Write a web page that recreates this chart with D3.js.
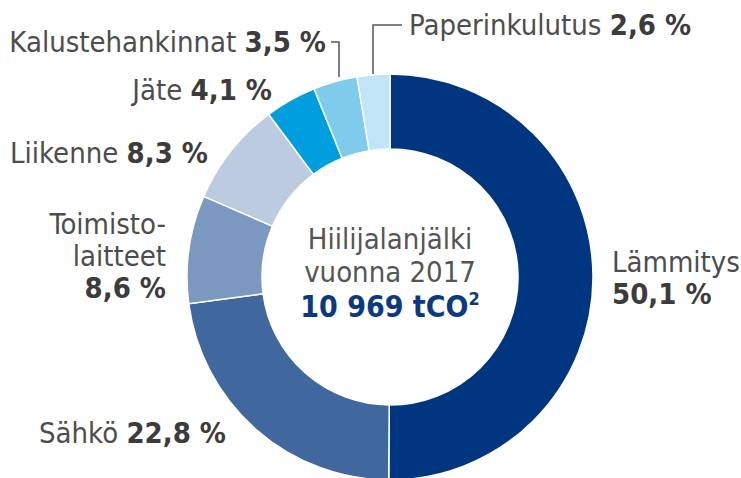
<!DOCTYPE html>
<html>
<head>
<meta charset="utf-8">
<script src="https://cdn.jsdelivr.net/npm/d3@7"></script>
<style>
  body { margin: 0; background: #fff; }
  svg text { font-family: "Liberation Sans Narrow", "DejaVu Sans Condensed", sans-serif; }
</style>
</head>
<body>
<div id="chart"></div>
<script>
// data
var categories = ["Lämmitys", "Sähkö", "Toimistolaitteet", "Liikenne", "Jäte", "Kalustehankinnat", "Paperinkulutus"];
var shares = [50.1, 22.8, 8.6, 8.3, 4.1, 3.5, 2.6];
var shareLabels = ["50,1 %", "22,8 %", "8,6 %", "8,3 %", "4,1 %", "3,5 %", "2,6 %"];
var centerLines = ["Hiilijalanjälki", "vuonna 2017"];
var totalLabel = "10 969 tCO";

var width = 741, height = 478;
var cx = 390, cy = 277, outerR = 203, innerR = 128;

var svg = d3.select("#chart").append("svg")
  .attr("width", width)
  .attr("height", height);

var color = d3.scaleOrdinal()
  .domain(categories)
  .range(["#00367f", "#40679e", "#7b98c0", "#bccbe0", "#009ede", "#7fcbec", "#bfe5f6"]);

var pie = d3.pie().sort(null).value(function(d){ return d; });
var arc = d3.arc().innerRadius(innerR).outerRadius(outerR);

var g = svg.append("g").attr("transform", "translate(" + cx + "," + cy + ")");

g.selectAll("path")
  .data(pie(shares))
  .enter().append("path")
  .attr("d", arc)
  .attr("fill", function(d, i){ return color(categories[i]); })
  .attr("stroke", "#fff")
  .attr("stroke-width", 1.5);

// labels: placement per slice (x, y, anchor, lines)
var fs = 29;
var labelCol = "#4d4d4d", boldCol = "#3c3c3c";

function label(x, y, anchor, rows) {
  var t = svg.append("text")
    .attr("x", x).attr("y", y)
    .attr("text-anchor", anchor)
    .style("font-size", fs + "px")
    .attr("fill", labelCol);
  rows.forEach(function(r, k){
    var ts = t.append("tspan");
    if (r.newLine) ts.attr("x", x).attr("dy", 32);
    ts.text(r.text);
    if (r.bold) ts.style("font-weight", "bold").attr("fill", boldCol);
  });
}

label(612, 272, "start", [{text: categories[0]}, {text: shareLabels[0], bold: true, newLine: true}]);
label(226, 443, "end", [{text: "Sähkö "}, {text: shareLabels[1], bold: true}]);
label(166, 234, "end", [{text: "Toimisto-"}, {text: "laitteet", newLine: true}, {text: shareLabels[2], bold: true, newLine: true}]);
label(208, 163, "end", [{text: categories[3] + " "}, {text: shareLabels[3], bold: true}]);
label(272, 100, "end", [{text: categories[4] + " "}, {text: shareLabels[4], bold: true}]);
label(326, 52, "end", [{text: categories[5] + " "}, {text: shareLabels[5], bold: true}]);
label(409, 35, "start", [{text: categories[6] + " "}, {text: shareLabels[6], bold: true}]);

// leader lines for the small slices
svg.append("path")
  .attr("d", "M331,42H339V77")
  .attr("fill", "none").attr("stroke", "#555").attr("stroke-width", 1.5);
svg.append("path")
  .attr("d", "M402,25H373V74")
  .attr("fill", "none").attr("stroke", "#555").attr("stroke-width", 1.5);

// centre text
var ct = svg.append("text")
  .attr("x", cx).attr("y", 249)
  .attr("text-anchor", "middle")
  .style("font-size", fs + "px")
  .attr("fill", "#555");
centerLines.forEach(function(l, k){
  ct.append("tspan").attr("x", cx).attr("dy", k ? 33 : 0).text(l);
});
var tot = svg.append("text")
  .attr("x", cx).attr("y", 317)
  .attr("text-anchor", "middle")
  .style("font-size", "30px")
  .style("font-weight", "bold")
  .attr("fill", "#0b3a80");
tot.append("tspan").text(totalLabel);
tot.append("tspan").attr("dy", -12).style("font-size", "18px").text("2");
</script>
</body>
</html>
